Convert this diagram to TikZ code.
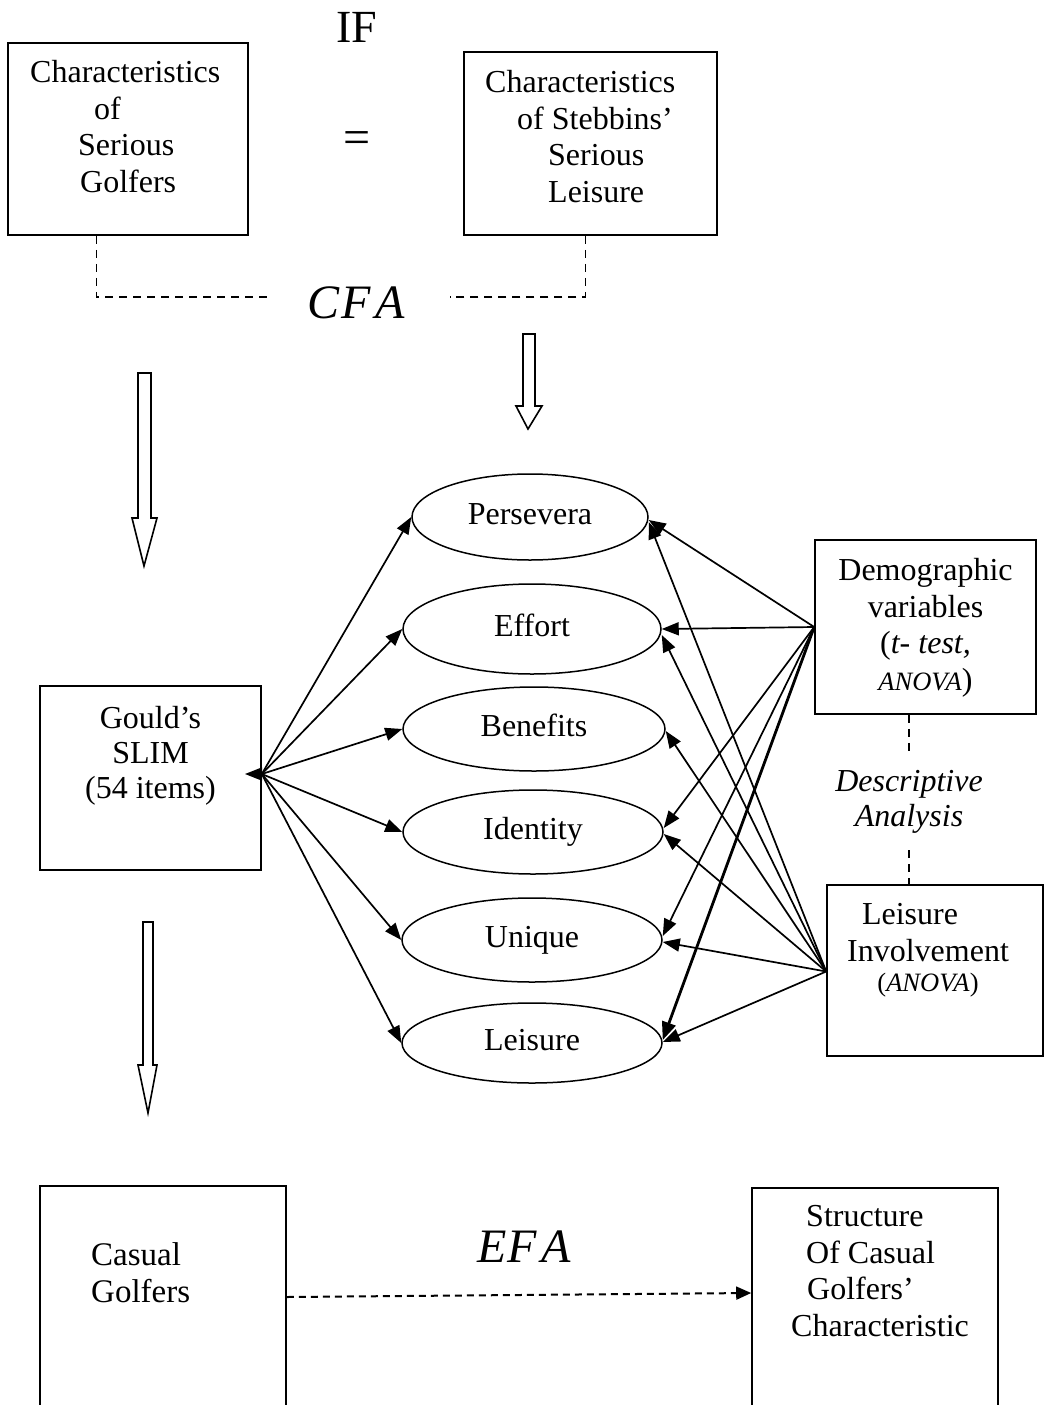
\documentclass[tikz,border=0pt]{standalone}
\usepackage{fontspec}
\setmainfont{Liberation Serif}
\usetikzlibrary{arrows.meta,shapes.geometric}
\newcommand\dgmtext{\fontsize{32}{36.7}\selectfont}
\newcommand\dgmsmall{\fontsize{26.5}{30}\selectfont}
\begin{document}
\begin{tikzpicture}[x=1pt,y=-1pt,
  box/.style={draw,line width=1.6pt,inner sep=0pt},
  txt/.style={font=\dgmtext,inner sep=0pt},
  ell/.style={draw,ellipse,line width=1.5pt,inner sep=0pt,font=\dgmtext,text height=21pt,text depth=6pt},
  conn/.style={line width=1.7pt,-{Triangle[length=17pt,width=13pt]}},
  thickconn/.style={line width=2.8pt,-{Triangle[length=18pt,width=14pt]}},
  dsh/.style={line width=1.4pt,dash pattern=on 8pt off 6pt},
  dsharrow/.style={line width=2pt,dash pattern=on 7pt off 5pt,-{Triangle[length=15pt,width=13pt]}},
  hollow/.style={draw,line width=1.6pt,line join=miter,fill=white}]
\clip (0,0) rectangle (1044,1405);
\fill[white] (0,0) rectangle (1044,1405);

% top
\node[font=\fontsize{46}{50}\selectfont,inner sep=0pt,anchor=base] (ift) at (357,43) {IF};
\node[box,minimum width=240pt,minimum height=192pt] (b1) at (128,139) {};
\node[txt,anchor=north west,align=left] (b1t) at (30,60) {Characteristics\\\hspace*{64pt}of\\\hspace*{48pt}Serious\\\hspace*{50pt}Golfers};
\node[font=\fontsize{48}{50}\selectfont,inner sep=0pt,anchor=base] (eq) at (357,153) {=};
\node[box,minimum width=253pt,minimum height=183pt] (b2) at (590.5,143.5) {};
\node[txt,anchor=north west,align=left] (b2t) at (485,70) {Characteristics\\\hspace*{32pt}of Stebbins’\\\hspace*{63pt}Serious\\\hspace*{63pt}Leisure};

\node[font=\fontsize{48}{50}\selectfont\itshape,inner sep=0pt,anchor=base] (cfa) at (356,318) {C\kern2pt F\kern4pt A};
\coordinate (cl) at (270,297);
\coordinate (cr) at (450,297);
\draw[dsh] ([xshift=89pt]b1.south west) |- (cl);
\draw[dsh] ([xshift=122pt]b2.south west) |- (cr);

% hollow arrows
\draw[hollow] (523,334) -- (535,334) -- (535,406) -- (542,406) -- (528,429) -- (516,406) -- (523,406) -- cycle;
\draw[hollow] (138,373) -- (151,373) -- (151,518) -- (157,518) -- (144,566) -- (132,518) -- (138,518) -- cycle;
\draw[hollow] (143,922) -- (153,922) -- (153,1065) -- (157,1065) -- (148,1113) -- (138,1065) -- (143,1065) -- cycle;

% ellipses
\node[ell,minimum width=236pt,minimum height=86pt] (pers) at (530,517) {Persevera};
\node[ell,minimum width=258pt,minimum height=90pt] (eff) at (532,629) {Effort};
\node[ell,minimum width=262pt,minimum height=84pt] (ben) at (534,729) {Benefits};
\node[ell,minimum width=260pt,minimum height=84pt] (idn) at (533,832) {Identity};
\node[ell,minimum width=260pt,minimum height=84pt] (uni) at (532,940) {Unique};
\node[ell,minimum width=260pt,minimum height=80pt] (lei) at (532,1043) {Leisure};

% Gould box
\node[box,minimum width=221pt,minimum height=184pt] (g) at (150.5,778) {};
\node[txt,anchor=north,align=center,font=\fontsize{32}{35}\selectfont] (gt) at (150.5,706) {Gould’s\\SLIM\\(54 items)};
\coordinate (go) at ([yshift=4pt]g.east);
\coordinate (gtip) at (245,774);
\draw[conn] (go) -- (gtip);
\foreach \e in {pers,eff,ben,idn,uni,lei} \draw[conn] (go) -- (\e.west);

% Demographic box
\node[box,minimum width=221pt,minimum height=174pt] (demo) at (925.5,627) {};
\node[txt,anchor=north,align=center] (demot) at (925.5,558) {Demographic\\variables\\(\textit{t- test,}\\{\dgmsmall\itshape ANOVA})};

% Leisure involvement box
\node[box,minimum width=216pt,minimum height=171pt] (li) at (935,970.5) {};
\node[txt,anchor=north,align=center] (lit) at (928,903) {Leisure\hspace*{36pt}\\Involvement\\[-6pt]{\dgmsmall(\textit{ANOVA})}};

% descriptive analysis
\node[txt,anchor=north,align=center,font=\fontsize{32}{35}\selectfont\itshape] (desc) at (909,770) {Descriptive\\Analysis};
\coordinate (da) at (909,753);
\coordinate (db) at (909,850);
\draw[dsh] (demo.south -| da) -- (da);
\draw[dsh] (db) -- (li.north -| db);

% connectors from Demographic
\coordinate (dmo) at (demo.west);
\draw[conn] (dmo) -- ([yshift=-3pt]pers.east);
\draw[conn] (dmo) -- (eff.east);
\draw[conn] (dmo) -- ([yshift=4pt]idn.east);
\draw[conn] (dmo) -- ([yshift=4pt]uni.east);
\draw[thickconn] (dmo) -- ([yshift=3pt]lei.east);

% connectors from Leisure Involvement
\coordinate (lio) at ([yshift=-1pt]li.west);
\draw[conn] (lio) -- ([yshift=-5pt]pers.east);
\draw[conn] (lio) -- ([yshift=-6pt]eff.east);
\draw[conn] (lio) -- ([yshift=-2pt]ben.east);
\draw[conn] (lio) -- ([yshift=-2pt]idn.east);
\draw[conn] (lio) -- ([yshift=-2pt]uni.east);
\draw[conn] (lio) -- ([yshift=1pt]lei.east);

% bottom
\node[box,minimum width=246pt,minimum height=260pt] (cas) at (163,1316) {};
\node[txt,anchor=north west,align=left,font=\fontsize{33}{37}\selectfont] (cast) at (91,1242) {Casual\\Golfers};
\node[box,minimum width=246pt,minimum height=260pt] (str) at (875,1318) {};
\node[txt,anchor=north west,align=left] (strt) at (791,1205) {\hspace*{15pt}Structure\\\hspace*{15pt}Of Casual\\\hspace*{16pt}Golfers’\\Characteristic};
\node[font=\fontsize{48}{50}\selectfont\itshape,inner sep=0pt,anchor=base] (efa) at (524,1262) {E\kern1pt F\kern4pt A};
\draw[dsharrow] ([yshift=19pt]cas.east) -- ([yshift=25pt]str.west);
\end{tikzpicture}
\end{document}
